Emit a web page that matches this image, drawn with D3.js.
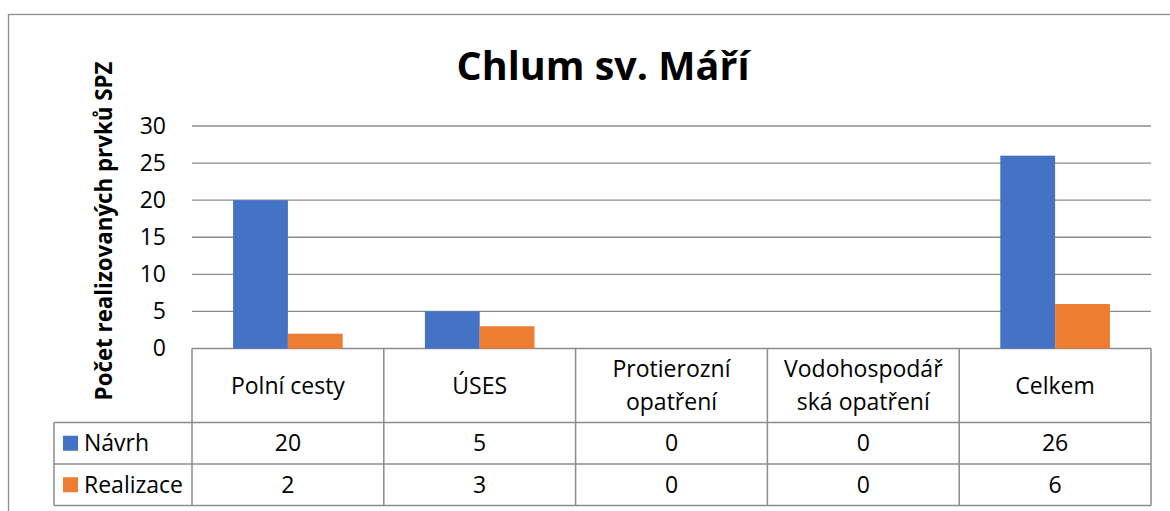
<!DOCTYPE html>
<html>
<head>
<meta charset="utf-8">
<script src="https://cdn.jsdelivr.net/npm/d3@7"></script>
<style>
  body { margin: 0; background: #fff; }
  svg text { font-family: "Open Sans", Lato, sans-serif; fill: #000; }
</style>
</head>
<body>
<div id="chart"></div>
<script>
'use strict'

// Data
var categories = [['Polní cesty'], ['ÚSES'], ['Protierozní', 'opatření'], ['Vodohospodář', 'ská opatření'], ['Celkem']]
var series_names = ['Návrh', 'Realizace']
var navrh = [20, 5, 0, 0, 26]
var realizace = [2, 3, 0, 0, 6]
var colors = ['#4472C4', '#ED7D31']
var y_ticks = [0, 5, 10, 15, 20, 25, 30]

var W = 1170, H = 511
var margin = {top: 126, left: 192, right: 19}
var plot_bottom = 348.5
var row_h = [74, 41.5, 41.5]   // header, row 1, row 2
var legend_left = 54
var fs = '23px'

var svg = d3.select('#chart').append('svg')
  .attr('width', W).attr('height', H)

// outer chart border
svg.append('rect')
  .attr('x', 8.5).attr('y', 14.5)
  .attr('width', W + 10).attr('height', H + 10)
  .attr('fill', 'none').attr('stroke', '#8c8c8c').attr('stroke-width', 1.3)

// title
svg.append('text')
  .attr('x', 603).attr('y', 80)
  .attr('text-anchor', 'middle')
  .style('font-size', '39.5px').style('font-weight', 'bold')
  .text('Chlum sv. Máří')

// scales
var scale_x = d3.scaleBand()
  .domain(d3.range(categories.length))
  .range([margin.left, W - margin.right])

var scale_inner = d3.scaleBand()
  .domain(d3.range(series_names.length))
  .range([0, scale_x.bandwidth()])
  .paddingOuter(0.75)   // roughly Excel gap width

var scale_y = d3.scaleLinear()
  .domain([0, 30])
  .range([plot_bottom, margin.top])

// gridlines
svg.append('g')
  .selectAll('line')
  .data(y_ticks)
  .enter().append('line')
  .attr('x1', margin.left).attr('x2', W - margin.right)
  .attr('y1', function(d) { return scale_y(d) })
  .attr('y2', function(d) { return scale_y(d) })
  .attr('stroke', '#8c8c8c').attr('stroke-width', 1.3)

// y axis labels
var yAxis = d3.axisLeft(scale_y).tickValues(y_ticks).tickSize(0).tickPadding(26)
var ya = svg.append('g')
  .attr('transform', 'translate(' + margin.left + ',0)')
  .call(yAxis)
ya.select('.domain').remove()
ya.selectAll('text')
  .style('font-size', fs)
  .style('font-family', '"Open Sans", sans-serif')
  .attr('fill', '#000')

// y axis title
svg.append('text')
  .attr('transform', 'translate(112,231) rotate(-90)')
  .attr('text-anchor', 'middle')
  .style('font-size', '22.3px').style('font-weight', 'bold')
  .text('Počet realizovaných prvků SPZ')

// bars
var series = [navrh, realizace]
series.forEach(function(vals, si) {
  svg.append('g')
    .selectAll('rect')
    .data(vals)
    .enter().append('rect')
    .attr('x', function(d, i) { return scale_x(i) + scale_inner(si) })
    .attr('width', scale_inner.bandwidth())
    .attr('y', function(d) { return scale_y(d) })
    .attr('height', function(d) { return plot_bottom - scale_y(d) })
    .attr('fill', colors[si])
})

// data table
var t_top = plot_bottom
var r1 = t_top + row_h[0], r2 = r1 + row_h[1], r3 = r2 + row_h[2]
var table = svg.append('g')
  .attr('stroke', '#8c8c8c').attr('stroke-width', 1.5)

// horizontal lines
table.append('line').attr('x1', legend_left).attr('x2', W - margin.right).attr('y1', r1).attr('y2', r1)
table.append('line').attr('x1', legend_left).attr('x2', W - margin.right).attr('y1', r2).attr('y2', r2)
table.append('line').attr('x1', legend_left).attr('x2', W - margin.right).attr('y1', r3).attr('y2', r3)
table.append('line').attr('x1', legend_left).attr('x2', legend_left).attr('y1', r1).attr('y2', r3)

// vertical lines
var v_edges = d3.range(categories.length).map(function(i) { return scale_x(i) })
v_edges.push(W - margin.right)
table.selectAll('line.v')
  .data(v_edges)
  .enter().append('line')
  .attr('class', 'v')
  .attr('x1', function(d) { return d }).attr('x2', function(d) { return d })
  .attr('y1', t_top).attr('y2', r3)

// category labels
var cat_g = svg.append('g')
categories.forEach(function(lines, i) {
  var cx = scale_x(i) + scale_x.bandwidth() / 2
  var cy = t_top + row_h[0] / 2
  var n = lines.length
  lines.forEach(function(l, j) {
    cat_g.append('text')
      .attr('x', cx)
      .attr('y', cy + (j - (n - 1) / 2) * 33)
      .attr('dy', '0.35em')
      .attr('text-anchor', 'middle')
      .style('font-size', fs)
      .text(l)
  })
})

// value rows + legend
var row_mid = [(r1 + r2) / 2, (r2 + r3) / 2]
series.forEach(function(vals, si) {
  svg.append('rect')
    .attr('x', 63).attr('y', row_mid[si] - 7.5)
    .attr('width', 15).attr('height', 15)
    .attr('fill', colors[si])
  svg.append('text')
    .attr('x', 84).attr('y', row_mid[si])
    .attr('dy', '0.35em')
    .style('font-size', fs)
    .text(series_names[si])
  svg.append('g')
    .selectAll('text')
    .data(vals)
    .enter().append('text')
    .attr('x', function(d, i) { return scale_x(i) + scale_x.bandwidth() / 2 })
    .attr('y', row_mid[si])
    .attr('dy', '0.35em')
    .attr('text-anchor', 'middle')
    .style('font-size', fs)
    .text(function(d) { return d })
})
</script>
</body>
</html>
